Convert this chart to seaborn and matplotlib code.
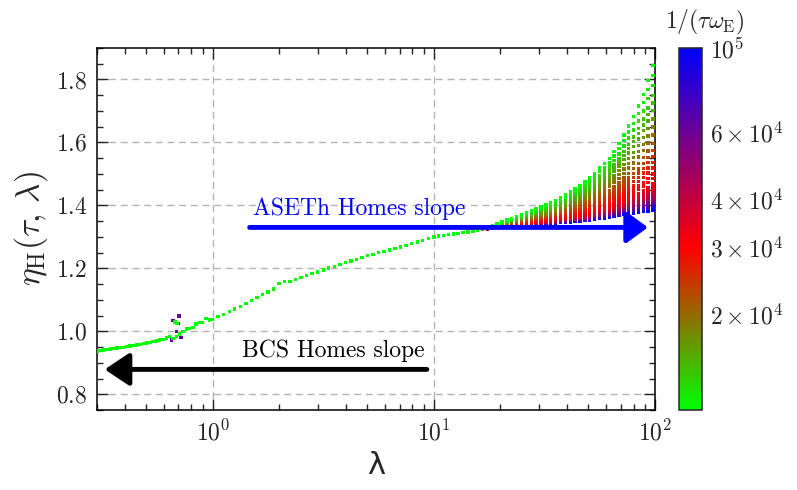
import numpy as np
import pandas as pd
import matplotlib
matplotlib.use('Agg')
import matplotlib.pyplot as plt
import seaborn as sns
from matplotlib.colors import LinearSegmentedColormap, LogNorm
from matplotlib.cm import ScalarMappable
from matplotlib.ticker import AutoMinorLocator, NullFormatter

# lower (common) curve
base_lam = [0.3, 0.4, 0.5, 0.6, 0.645, 0.655, 0.69, 0.72, 0.76, 0.82, 0.85, 0.9, 0.94, 0.96, 1.0,
            1.3, 1.95, 2.05, 2.15, 3.5, 5.0, 7.0, 10.0, 15.0, 20.0, 35.0, 50.0, 75.0, 98.0]
base_eta = [0.937, 0.950, 0.962, 0.975, 0.985, 0.975, 0.985, 0.995, 1.008, 1.012, 1.027, 1.028, 1.042, 1.035, 1.038,
            1.075, 1.140, 1.165, 1.155, 1.205, 1.240, 1.267, 1.300, 1.318, 1.331, 1.344, 1.352, 1.372, 1.385]

# upper (green, smallest 1/(tau w_E)) curve of the fan
top_lam = [15, 20, 26.2, 30.2, 34.6, 40.5, 45.7, 51.9, 56.4, 62.7, 69.3, 74.5, 81, 85.5, 90, 94, 98]
top_eta = [1.318, 1.345, 1.377, 1.394, 1.41, 1.438, 1.461, 1.493, 1.52, 1.551, 1.60, 1.641, 1.689,
           1.726, 1.765, 1.805, 1.845]

# series: colour value and relative position inside the fan
series_c = [1.12e4, 1.2e4, 1.3e4, 1.4e4, 1.5e4, 1.6e4, 1.7e4, 1.85e4, 2.0e4, 2.15e4, 2.3e4, 2.45e4, 2.6e4,
            2.75e4, 2.9e4, 3.05e4, 3.2e4, 3.4e4, 3.7e4, 4.0e4, 4.5e4, 5.2e4, 6.2e4, 7.8e4, 1e5]
series_w = [1.0, 0.93, 0.86, 0.79, 0.74, 0.69, 0.63, 0.575, 0.52, 0.46, 0.41, 0.37, 0.33,
            0.29, 0.25, 0.22, 0.18, 0.16, 0.14, 0.115, 0.09, 0.07, 0.046, 0.023, 0.0]

# scattered points around lambda ~ 0.7
out_lam = [0.661, 0.704, 0.697, 0.685, 0.719, 0.650, 0.676, 0.69]
out_eta = [1.034, 1.048, 1.025, 0.999, 0.981, 0.972, 1.03, 1.025]
out_c = [6e4, 6e4, 6.5e4, 6e4, 6.5e4, 6e4, 1.12e4, 1.12e4]

# sampling of lambda (three blocks)
lam_grid = np.concatenate([np.logspace(np.log10(0.3), 0, 35, endpoint=False),
                           np.logspace(0, 1, 40, endpoint=False),
                           np.logspace(1, np.log10(98), 46)])

lg = np.log10(lam_grid)
base = np.interp(lg, np.log10(base_lam), base_eta)
top = np.interp(lg, np.log10(top_lam), top_eta)
spread = np.where(lam_grid >= 15, top - base, 0.0)

rows = []
for c, w in zip(series_c, series_w):
    for x, b, s in zip(lam_grid, base, spread):
        rows.append((x, b + w * s, c))
for x, y, c in zip(out_lam, out_eta, out_c):
    rows.append((x, y, c))
df = pd.DataFrame(rows, columns=['lam', 'eta', 'c'])
df = df.sort_values('c', ascending=False, kind='stable')

sns.set_style('ticks')
plt.rcParams['font.family'] = ['cmr10', 'DejaVu Sans']
plt.rcParams['mathtext.fontset'] = 'cm'
plt.rcParams['axes.formatter.use_mathtext'] = True
plt.rcParams['axes.unicode_minus'] = False

cmap = LinearSegmentedColormap.from_list('gr_b', [(0, '#00ff00'), (0.45, '#ff0000'), (1, '#0000ff')])
norm = LogNorm(vmin=1.12e4, vmax=1e5)

fig = plt.figure(figsize=(7.97, 4.9), dpi=100)
ax = fig.add_axes([97 / 797, 80 / 490, 558 / 797, 362 / 490])
cax = fig.add_axes([679 / 797, 80 / 490, 23 / 797, 362 / 490])

sns.scatterplot(data=df, x='lam', y='eta', hue='c', hue_norm=norm, palette=cmap,
                marker='s', s=6, linewidth=0, legend=False, ax=ax, zorder=3)

ax.set_xscale('log')
ax.set_xlim(0.3, 100)
ax.set_ylim(0.75, 1.9)
ax.set_yticks([0.8, 1.0, 1.2, 1.4, 1.6, 1.8])
ax.yaxis.set_minor_locator(AutoMinorLocator(4))
ax.xaxis.set_minor_formatter(NullFormatter())
ax.grid(True, which='major', color='#b4b4b4', linestyle=(0, (5, 3.4)), linewidth=1)
ax.tick_params(which='both', direction='in', top=True, right=True, labelsize=17, width=1)
ax.tick_params(which='major', length=8, pad=7)
ax.tick_params(which='minor', length=4.5)
for sp in ax.spines.values():
    sp.set_linewidth(1.1)
    sp.set_color('black')
ax.set_xlabel('λ', fontsize=22, family='DejaVu Sans', labelpad=4)
ax.set_ylabel(r'$\eta_{\rm H}(\tau,\,\lambda)$', fontsize=24, labelpad=4)

# Homes slope arrows
ax.annotate('', xy=(92.9, 1.33), xytext=(1.47, 1.33),
            arrowprops=dict(arrowstyle='-|>,head_length=13,head_width=9.5', mutation_scale=1,
                            lw=3.5, color='#0000ff', shrinkA=0, shrinkB=0), zorder=4)
ax.text(1.517, 1.368, 'ASETh Homes slope', color='#0000ff', fontsize=17)
ax.annotate('', xy=(0.325, 0.879), xytext=(9.3, 0.879),
            arrowprops=dict(arrowstyle='-|>,head_length=15,head_width=10', mutation_scale=1,
                            lw=3.5, color='black', shrinkA=0, shrinkB=0), zorder=4)
ax.text(1.353, 0.917, 'BCS Homes slope', color='black', fontsize=17)

# colour bar
sm = ScalarMappable(norm=norm, cmap=cmap)
cb = fig.colorbar(sm, cax=cax)
cb.set_ticks([2e4, 3e4, 4e4, 6e4, 1e5])
cb.set_ticklabels([r'$2\times10^4$', r'$3\times10^4$', r'$4\times10^4$', r'$6\times10^4$', r'$10^5$'])
cax.yaxis.set_ticks([5e4, 7e4, 8e4, 9e4], minor=True)
cax.yaxis.set_minor_formatter(NullFormatter())
cax.tick_params(which='both', direction='in', labelsize=17, width=1)
cax.tick_params(which='major', length=6, pad=6)
cax.tick_params(which='minor', length=4)
cb.outline.set_linewidth(1.1)
cax.set_title(r'$1/(\tau\omega_{\rm E})$', fontsize=17, pad=14, x=1.1)

fig.savefig('out.png', dpi=100)
